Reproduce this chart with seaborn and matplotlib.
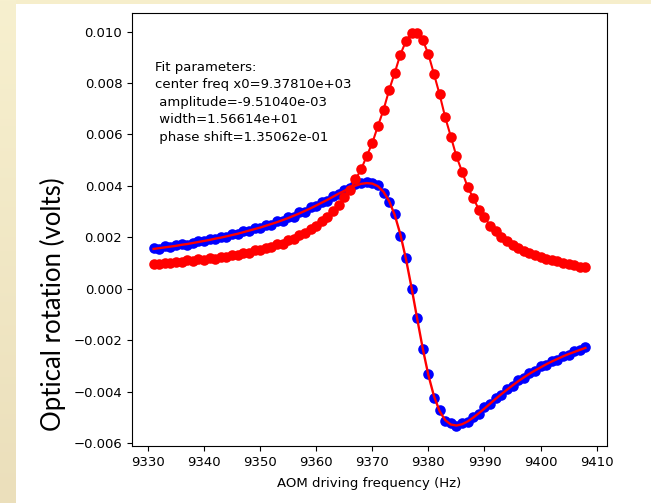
"""
Optical rotation vs AOM driving frequency: measured in-phase / quadrature
signals with the dispersion fit, laid out as in the slide screenshot.
"""

import numpy as np
import pandas as pd
import matplotlib
matplotlib.use('Agg')
import matplotlib.pyplot as plt
from matplotlib.patches import Rectangle
from matplotlib.ticker import MultipleLocator
import seaborn as sns

# ── Data ──────────────────────────────────────────────────────────────────
freq = [9331, 9332, 9333, 9334, 9335, 9336, 9337, 9338, 9339, 9340,
        9341, 9342, 9343, 9344, 9345, 9346, 9347, 9348, 9349, 9350,
        9351, 9352, 9353, 9354, 9355, 9356, 9357, 9358, 9359, 9360,
        9361, 9362, 9363, 9364, 9365, 9366, 9367, 9368, 9369, 9370,
        9371, 9372, 9373, 9374, 9375, 9376, 9377, 9378, 9379, 9380,
        9381, 9382, 9383, 9384, 9385, 9386, 9387, 9388, 9389, 9390,
        9391, 9392, 9393, 9394, 9395, 9396, 9397, 9398, 9399, 9400,
        9401, 9402, 9403, 9404, 9405, 9406, 9407, 9408]

# blue points: dispersion-like signal
blue_sig = [0.00158, 0.00156, 0.00165, 0.00163, 0.00169, 0.00176, 0.00171, 0.00179, 0.00186, 0.00184,
            0.00193, 0.00192, 0.00203, 0.00201, 0.00212, 0.00213, 0.00224, 0.00223, 0.00236, 0.00235,
            0.00249, 0.00249, 0.00264, 0.00265, 0.00280, 0.00281, 0.00298, 0.00300, 0.00319, 0.00322,
            0.00339, 0.00343, 0.00362, 0.00369, 0.00385, 0.00390, 0.00406, 0.00410, 0.00414, 0.00410,
            0.00403, 0.00372, 0.00336, 0.00289, 0.00207, 0.00119, 0.00001, -0.00112, -0.00236, -0.00331,
            -0.00423, -0.00470, -0.00515, -0.00524, -0.00535, -0.00524, -0.00519, -0.00497, -0.00487, -0.00459,
            -0.00450, -0.00423, -0.00414, -0.00388, -0.00379, -0.00356, -0.00348, -0.00327, -0.00321, -0.00302,
            -0.00297, -0.00280, -0.00276, -0.00260, -0.00257, -0.00243, -0.00240, -0.00227]

# red points: absorption-like signal
red_sig = [0.00098, 0.00095, 0.00102, 0.00099, 0.00106, 0.00103, 0.00110, 0.00107, 0.00114, 0.00112,
           0.00119, 0.00117, 0.00125, 0.00123, 0.00132, 0.00130, 0.00139, 0.00139, 0.00149, 0.00149,
           0.00160, 0.00161, 0.00174, 0.00176, 0.00189, 0.00193, 0.00209, 0.00216, 0.00234, 0.00243,
           0.00265, 0.00279, 0.00304, 0.00325, 0.00356, 0.00384, 0.00425, 0.00464, 0.00516, 0.00567,
           0.00633, 0.00696, 0.00773, 0.00840, 0.00911, 0.00963, 0.00995, 0.00996, 0.00968, 0.00912,
           0.00835, 0.00756, 0.00667, 0.00592, 0.00515, 0.00456, 0.00396, 0.00353, 0.00308, 0.00279,
           0.00245, 0.00224, 0.00203, 0.00186, 0.00172, 0.00159, 0.00146, 0.00138, 0.00130, 0.00125,
           0.00116, 0.00112, 0.00107, 0.00102, 0.00096, 0.00091, 0.00086, 0.00084]

# fitted dispersion curve (drawn through the blue points)
fit_curve = [0.00155, 0.00158, 0.00161, 0.00164, 0.00167, 0.00171, 0.00174, 0.00178, 0.00182, 0.00186,
             0.00190, 0.00195, 0.00199, 0.00204, 0.00209, 0.00214, 0.00220, 0.00226, 0.00232, 0.00238,
             0.00245, 0.00252, 0.00259, 0.00267, 0.00275, 0.00284, 0.00293, 0.00303, 0.00313, 0.00324,
             0.00335, 0.00346, 0.00358, 0.00370, 0.00381, 0.00392, 0.00401, 0.00408, 0.00411, 0.00409,
             0.00399, 0.00377, 0.00341, 0.00287, 0.00212, 0.00116, 0.00004, -0.00116, -0.00233, -0.00336,
             -0.00418, -0.00476, -0.00511, -0.00528, -0.00532, -0.00527, -0.00516, -0.00501, -0.00484, -0.00466,
             -0.00447, -0.00428, -0.00410, -0.00393, -0.00376, -0.00360, -0.00345, -0.00331, -0.00318, -0.00306,
             -0.00294, -0.00283, -0.00273, -0.00263, -0.00254, -0.00246, -0.00238, -0.00230]

fit_text = ("Fit parameters:\ncenter freq x0=9.37810e+03\n amplitude=-9.51040e-03\n"
            " width=1.56614e+01\n phase shift=1.35062e-01")

df = pd.DataFrame({'freq': freq, 'blue': blue_sig, 'red': red_sig, 'fit': fit_curve})

# ── Figure: slide background + plot ───────────────────────────────────────
W, H = 651, 503
fig = plt.figure(figsize=(W / 100, H / 100), dpi=100)
fig.patch.set_facecolor('#f6eecb')
fig.add_artist(Rectangle((16 / W, 0), 1, 1 - 4 / H, transform=fig.transFigure,
                         facecolor='white', edgecolor='none', zorder=-1))

# left slide strip, soft vertical gradient
ax_strip = fig.add_axes([0, 0, 16 / W, 1])
grad = np.linspace(0, 1, 256).reshape(-1, 1)
strip_cmap = matplotlib.colors.LinearSegmentedColormap.from_list('strip', ['#f7f0cf', '#ebdfbb'])
ax_strip.imshow(grad, aspect='auto', cmap=strip_cmap)
ax_strip.axis('off')

ax = fig.add_axes([132 / W, 57 / H, 475 / W, 433 / H])

sns.scatterplot(data=df, x='freq', y='blue', color='blue', s=58, linewidth=0,
                ax=ax, zorder=2)
sns.lineplot(data=df, x='freq', y='red', color='red', marker='o', markersize=7.6,
             markeredgewidth=0, linewidth=1.5, ax=ax, zorder=3)
sns.lineplot(data=df, x='freq', y='fit', color='red', linewidth=1.7, ax=ax, zorder=4)

ax.xaxis.set_major_locator(MultipleLocator(10))
ax.yaxis.set_major_locator(MultipleLocator(0.002))
ax.tick_params(labelsize=9.5)
ax.set_xlabel('AOM driving frequency (Hz)', fontsize=9.5, labelpad=6)
ax.set_ylabel('')

ax.text(0.048, 0.89, fit_text, transform=ax.transAxes, ha='left', va='top',
        fontsize=9.5, linespacing=1.45)

fig.text(53 / W, 1 - 304 / H, 'Optical rotation (volts)', rotation=90,
         ha='center', va='center', fontsize=18.5, family=['Lato', 'DejaVu Sans'])

fig.savefig('out.png', dpi=100)
plt.close(fig)
